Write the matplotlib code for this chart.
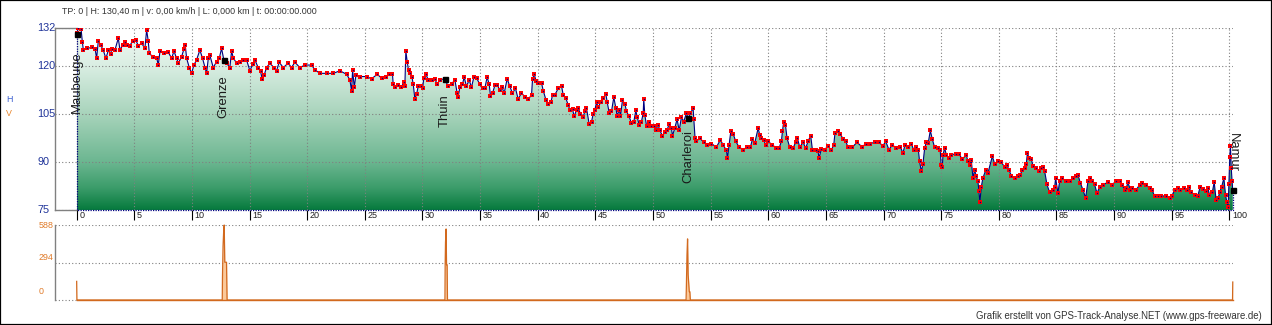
import numpy as np
import matplotlib
matplotlib.use("Agg")
import matplotlib.pyplot as plt
from matplotlib.colors import LinearSegmentedColormap
from matplotlib.patches import Polygon, Rectangle

plt.rcParams['font.family'] = ['Liberation Sans', 'DejaVu Sans']

## ELEVATION PROFILE (km, m) in five pieces

km_1 = [0.0, 0.15, 0.38, 0.49, 0.58, 0.87, 1.3, 1.6, 1.73, 1.88, 2.08, 2.3, 2.54, 2.75, 2.95,
        3.03, 3.32, 3.61, 3.76, 3.99, 4.19, 4.39, 4.62, 4.86, 5.12, 5.35, 5.64, 5.92, 6.07, 6.21,
        6.3, 6.59, 6.94, 7.08, 7.23, 7.57, 7.95, 8.24, 8.44, 8.67, 8.82, 9.1, 9.31, 9.42, 9.54,
        9.77, 9.97, 10.17, 10.4, 10.69, 10.92, 11.13, 11.27, 11.42, 11.56, 11.85, 12.14, 12.37, 12.57, 12.77,
        13.0, 13.29, 13.44, 13.58, 13.87, 14.16, 14.45, 14.74, 15.03, 15.26, 15.46, 15.75, 15.95, 16.1, 16.27,
        16.47, 16.76, 17.11, 17.34, 17.57, 17.92, 18.35, 18.64, 18.93, 19.36, 19.8]
h_1 = [130.4, 131.9, 131.8, 127.7, 125.1, 125.6, 125.9, 125.4, 122.5, 128.0, 126.7, 125.1, 122.5, 125.1, 123.8,
       125.4, 125.1, 128.8, 125.1, 126.7, 127.7, 126.7, 126.5, 128.0, 128.2, 126.5, 127.2, 125.6, 131.4, 127.9,
       124.1, 123.0, 122.7, 120.4, 124.8, 124.1, 124.4, 122.5, 124.8, 122.5, 121.0, 123.0, 125.4, 126.7, 122.5,
       119.6, 117.8, 120.4, 122.0, 125.1, 122.5, 119.6, 117.8, 122.5, 123.4, 119.6, 121.5, 122.5, 125.6, 122.0,
       121.0, 119.6, 124.8, 122.7, 121.0, 121.3, 122.0, 122.0, 118.6, 120.6, 122.0, 119.6, 118.4, 116.1, 117.3,
       119.6, 121.0, 119.6, 118.6, 121.3, 119.6, 121.0, 119.6, 121.3, 119.6, 120.4]

km_2 = [20.38, 20.67, 21.1, 21.68, 22.26, 22.84, 23.42, 23.7, 23.85, 23.94, 24.08, 24.23, 24.57, 25.15, 25.58,
        26.08, 26.45, 26.83, 27.12, 27.4, 27.46, 27.61, 27.9, 28.18, 28.39, 28.47, 28.56, 28.68, 28.79, 28.91,
        29.08, 29.2, 29.34, 29.49, 29.63, 29.83, 30.01, 30.12, 30.3, 30.5, 30.79, 31.08, 31.28, 31.51, 31.94,
        32.23, 32.52, 32.81, 33.01, 33.1, 33.24, 33.47, 33.62, 33.82, 34.05, 34.25, 34.46, 34.69, 34.98, 35.21,
        35.41, 35.61, 35.79, 35.9, 36.08, 36.28, 36.48, 36.71, 36.91, 37.09, 37.35, 37.58, 37.81, 38.07, 38.3,
        38.59, 38.88, 39.17, 39.46]
h_2 = [120.4, 118.9, 117.8, 117.8, 117.8, 118.6, 117.5, 115.8, 112.3, 118.9, 113.5, 117.3, 116.8, 116.8, 116.1,
       117.5, 116.3, 116.8, 117.5, 117.5, 114.4, 113.5, 114.2, 113.4, 115.2, 113.7, 124.8, 121.3, 118.9, 117.8,
       116.8, 114.4, 109.8, 111.3, 113.7, 113.7, 113.1, 116.3, 117.5, 115.8, 115.8, 116.0, 114.4, 115.8, 116.1,
       113.7, 114.4, 115.8, 111.6, 110.5, 113.4, 114.4, 116.6, 113.7, 115.8, 113.4, 116.6, 116.3, 114.4, 113.1,
       113.1, 116.6, 114.4, 110.8, 111.6, 114.0, 114.2, 112.6, 113.4, 111.6, 116.1, 113.7, 111.6, 113.1, 109.8,
       111.6, 110.5, 109.8, 110.9]

km_3 = [39.55, 39.7, 39.84, 40.04, 40.33, 40.48, 40.71, 40.91, 41.14, 41.29, 41.49, 41.78, 42.07, 42.21, 42.44,
        42.64, 42.79, 43.02, 43.16, 43.37, 43.51, 43.71, 43.94, 44.09, 44.23, 44.46, 44.67, 44.81, 44.96, 45.1,
        45.25, 45.45, 45.68, 45.91, 46.03, 46.2, 46.4, 46.6, 46.78, 46.89, 47.07, 47.18, 47.35, 47.56, 47.7,
        47.93, 48.13, 48.34, 48.51, 48.63, 48.8, 49.0, 49.15, 49.2, 49.29, 49.44, 49.67, 49.87, 50.07, 50.24,
        50.45, 50.59, 50.82, 51.03, 51.23, 51.4, 51.6, 51.69, 51.89, 52.09, 52.27, 52.47, 52.67, 52.9, 53.05,
        53.25, 53.48, 53.54, 53.65, 53.77, 54.06, 54.41, 54.7, 55.07, 55.5, 55.85, 56.08, 56.37, 56.46, 56.6,
        56.75, 56.95, 57.18, 57.47, 57.82, 58.16, 58.45, 58.63, 58.83, 59.12]
h_3 = [116.0, 117.6, 115.5, 114.7, 114.7, 112.4, 109.5, 108.3, 108.7, 111.1, 111.1, 113.1, 113.7, 111.1, 110.0,
       107.9, 106.4, 106.6, 104.3, 106.4, 106.9, 105.1, 104.1, 105.9, 106.9, 102.0, 102.7, 105.1, 106.4, 108.7,
       107.2, 108.7, 110.0, 111.3, 108.7, 105.5, 105.9, 110.3, 106.9, 104.5, 106.4, 104.5, 109.3, 108.3, 105.9,
       104.3, 102.2, 102.7, 106.2, 104.1, 101.7, 102.7, 105.3, 109.7, 104.8, 101.4, 102.7, 101.4, 101.4, 100.1,
       101.7, 99.9, 98.3, 99.3, 100.1, 102.0, 100.6, 98.3, 100.6, 103.5, 99.9, 104.1, 102.7, 105.3, 103.8,
       105.3, 106.9, 103.5, 97.5, 96.5, 97.5, 96.2, 95.4, 95.8, 94.7, 97.0, 95.4, 93.7, 91.3, 95.4,
       99.6, 98.9, 96.5, 94.7, 93.9, 94.7, 94.7, 97.2, 96.0, 100.6]

km_4 = [59.26, 59.4, 59.6, 59.78, 59.98, 60.36, 60.7, 60.94, 61.14, 61.23, 61.34, 61.49, 61.63, 61.86, 62.15,
        62.38, 62.53, 62.73, 63.02, 63.25, 63.45, 63.68, 63.83, 64.12, 64.32, 64.4, 64.61, 64.9, 65.18, 65.47,
        65.68, 65.79, 66.05, 66.25, 66.49, 66.72, 66.92, 67.3, 67.7, 68.16, 68.45, 68.8, 69.23, 69.6, 69.95,
        70.19, 70.47, 70.76, 71.11, 71.46, 71.69, 71.86, 72.12, 72.41, 72.61, 72.84, 73.02, 73.13, 73.28, 73.42,
        73.57, 73.71, 73.88, 74.06, 74.23, 74.43, 74.72, 74.92, 75.0, 75.1, 75.16, 75.3, 75.45, 75.68, 75.88,
        76.25, 76.54, 76.83, 77.18, 77.32, 77.47, 77.61, 77.76, 77.9, 78.05, 78.19, 78.28, 78.36, 78.48, 78.62,
        78.86, 79.06]
h_4 = [98.6, 97.5, 97.0, 95.4, 96.5, 95.4, 94.4, 94.4, 96.5, 99.6, 102.7, 101.7, 97.5, 94.7, 94.4,
       96.2, 97.5, 94.7, 96.2, 94.4, 96.5, 98.3, 93.9, 93.9, 93.4, 91.3, 94.1, 93.9, 95.1, 93.7,
       95.4, 99.1, 99.6, 98.9, 97.2, 96.5, 94.7, 94.7, 96.2, 94.7, 95.8, 95.8, 96.2, 96.2, 95.1,
       96.5, 93.9, 95.4, 94.4, 94.7, 92.9, 95.4, 94.7, 95.8, 93.9, 94.7, 93.9, 90.2, 87.1, 89.5,
       94.4, 96.2, 96.0, 99.9, 97.2, 94.7, 94.4, 93.7, 89.2, 88.5, 92.3, 94.4, 92.3, 91.3, 92.3,
       92.6, 92.6, 90.9, 92.3, 90.2, 89.2, 90.8, 85.0, 87.6, 85.5, 84.0, 80.9, 77.4, 82.2, 85.0,
       87.4, 86.6]

km_5 = [79.44, 79.64, 79.93, 80.22, 80.51, 80.71, 80.89, 81.09, 81.38, 81.67, 81.87, 82.04, 82.24, 82.39, 82.48,
        82.62, 82.82, 82.97, 83.2, 83.49, 83.69, 83.83, 83.98, 84.18, 84.41, 84.7, 84.85, 84.93, 85.13, 85.28,
        85.51, 85.8, 86.15, 86.44, 86.67, 86.87, 87.07, 87.3, 87.53, 87.74, 87.94, 88.11, 88.31, 88.52, 88.75,
        89.04, 89.47, 89.85, 90.13, 90.48, 90.71, 90.91, 91.06, 91.2, 91.41, 91.58, 91.93, 92.22, 92.45, 92.79,
        93.08, 93.31, 93.52, 93.8, 94.09, 94.47, 94.82, 95.05, 95.25, 95.54, 95.74, 96.03, 96.32, 96.49, 96.7,
        96.98, 97.27, 97.47, 97.71, 98.0, 98.14, 98.28, 98.52, 98.69, 98.86, 99.04, 99.15, 99.33, 99.53, 99.67,
        99.79, 99.9, 99.96, 100.04, 100.1, 100.17, 100.24, 100.3]
h_5 = [91.8, 89.5, 90.2, 89.9, 88.5, 89.2, 87.4, 85.8, 85.0, 85.8, 86.1, 87.6, 88.2, 89.5, 92.8,
       91.3, 91.0, 88.7, 88.2, 87.1, 88.2, 88.5, 87.1, 83.0, 80.5, 81.2, 82.2, 85.0, 80.3, 84.0,
       85.0, 84.0, 84.0, 85.0, 85.8, 86.1, 83.5, 81.4, 78.8, 84.0, 85.0, 84.0, 83.0, 80.3, 82.2,
       82.9, 83.7, 82.9, 84.0, 84.0, 82.9, 81.2, 81.9, 83.7, 81.4, 81.9, 81.4, 82.9, 83.5, 82.9,
       81.9, 81.2, 79.3, 79.3, 79.3, 79.5, 78.8, 79.5, 81.2, 81.9, 81.4, 81.9, 81.4, 82.2, 80.5,
       79.8, 79.5, 82.2, 81.6, 80.9, 81.9, 79.8, 80.5, 83.7, 78.0, 78.8, 80.5, 82.2, 85.0, 79.8,
       77.4, 76.0, 83.0, 91.6, 95.0, 88.0, 84.0, 81.2]

## PLACES
place_names = ["Maubeuge", "Grenze", "Thuin", "Charleroi", "Namur"]
place_km = [0.0, 12.77, 31.94, 53.05, 100.3]
place_h = [130.2, 122.0, 116.1, 103.8, 81.2]

## SPEED (km/h) - mostly zero, a few spikes
speed_km = [0.0, 0.0, 0.02, 12.63, 12.65, 12.70, 12.75, 12.80, 12.85, 13.0, 13.05,
            31.95, 31.97, 32.0, 32.05, 32.09, 32.14, 32.17,
            52.87, 52.9, 52.95, 53.0, 53.05, 53.15, 53.2, 53.24, 100.28, 100.3]
speed_val = [146, 146, 0, 0, 183, 423, 531, 588, 296, 296, 0,
             0, 276, 453, 557, 276, 276, 0,
             0, 120, 354, 479, 198, 65, 65, 0, 0, 141]

km = np.array(km_1 + km_2 + km_3 + km_4 + km_5)
elev = np.array(h_1 + h_2 + h_3 + h_4 + h_5)

X0, X1 = -1.88, 100.32
W, H = 1272, 325

fig = plt.figure(figsize=(W / 100, H / 100), dpi=100)

## ELEVATION PANEL
ax = fig.add_axes([55 / W, 115 / H, 1178 / W, 182 / H])

green = LinearSegmentedColormap.from_list("elev", [
    (0.0, "#067a3d"), (0.12, "#3b9c6a"), (0.26, "#6bb690"), (0.53, "#a9d4bc"),
    (0.79, "#daeee3"), (1.0, "#f3f9f5")])
grad = np.linspace(0, 1, 256).reshape(-1, 1)
im = ax.imshow(grad, extent=[0, km[-1], 75, 132], origin="lower", aspect="auto",
               cmap=green, interpolation="bilinear", zorder=0.5)
outline = Polygon(np.column_stack([np.r_[km[0], km, km[-1]], np.r_[75, elev, 75]]),
                  closed=True, facecolor="none", edgecolor="none")
ax.add_patch(outline)
im.set_clip_path(outline)

ax.plot([0, 0, km[-1], km[-1]], [elev[0], 75, 75, elev[-1]], color="#000080",
        lw=0.9, ls=(0, (1, 1)), zorder=3, clip_on=False)
ax.plot(km, elev, color="#000080", lw=0.8, zorder=3)
ax.plot(km, elev, "s", ms=3.0, mfc="#ff0000", mec="#ff0000", mew=0, zorder=4)
ax.plot(km, elev, "s", ms=0.9, mfc="#000080", mec="#000080", mew=0, zorder=5)
ax.plot(place_km, place_h, "s", ms=3.6, color="black", zorder=6, clip_on=False)

ax.set_xlim(X0, X1)
ax.set_ylim(75, 132)
ax.set_xticks(np.arange(0, 101, 5))
ax.set_yticks([75, 90, 105, 120, 132])
ax.grid(True, color="#808080", linestyle=(0, (1, 2)), linewidth=0.8)
ax.set_axisbelow(False)
ax.tick_params(axis="x", direction="out", length=7, width=0.8, colors="black", labelbottom=False)
ax.tick_params(axis="y", length=0, labelleft=False)
for s in ["top", "right", "bottom"]:
    ax.spines[s].set_visible(False)
ax.spines["left"].set_color("#808080")
ax.spines["left"].set_linewidth(1.0)
ax.plot([X0, 0], [75, 75], color="#808080", lw=1.0, clip_on=False)
ax.plot([X0, 0], [132, 132], color="#808080", lw=1.0, clip_on=False)

for k in range(0, 101, 5):
    ax.text(k + 0.22, -0.03, str(k), transform=ax.get_xaxis_transform(),
            ha="left", va="center", fontsize=6.5, color="#222222")
for v in [75, 90, 105, 120, 132]:
    ax.text(37 / W, 115 / H + (v - 75) / 57 * 182 / H, str(v), transform=fig.transFigure,
            ha="left", va="center", fontsize=7.8, color="#1f3399")

rot = [90, 90, 90, 90, 270]
lab_h = [115.0, 110.6, 106.1, 91.9, 93.0]
for name, x, y, r in zip(place_names, place_km, lab_h, rot):
    ax.text(x, y, name, rotation=r, ha="center", va="center", fontsize=9.4,
            color="#1a1a1a", zorder=7, clip_on=False)

## SPEED PANEL
ax2 = fig.add_axes([55 / W, 25 / H, 1178 / W, 75 / H])
ax2.fill_between(speed_km, speed_val, 0, color="#fbc99a", lw=0, zorder=2)
ax2.plot(speed_km, speed_val, color="#d2691e", lw=0.9, zorder=3, clip_on=False)
ax2.plot([0, 100.3], [0, 0], color="#d2691e", lw=1.0, zorder=3, clip_on=False)
ax2.set_xlim(X0, X1)
ax2.set_ylim(0, 588)
ax2.set_yticks([294, 588])
ax2.set_xticks([])
ax2.yaxis.grid(True, color="#808080", linestyle=(0, (1, 2)), linewidth=0.8)
ax2.tick_params(axis="y", length=0, labelleft=False)
for s in ["top", "right", "bottom"]:
    ax2.spines[s].set_visible(False)
ax2.spines["left"].set_color("#808080")
ax2.spines["left"].set_linewidth(1.0)
ax2.plot([X0, 0], [0, 0], color="#808080", lw=0.8, ls=(0, (1, 2)), clip_on=False)
for v, py in zip(["588", "294", "0"], [225, 258, 291]):
    fig.text(39 / W, 1 - py / H, v, ha="left", va="center", fontsize=6.4, color="#e07b2a")

## LABELS
fig.text(9 / W, 1 - 100 / H, "H", ha="center", va="center", fontsize=6.4, color="#3a5fd0")
fig.text(9 / W, 1 - 114 / H, "V", ha="center", va="center", fontsize=6.4, color="#e8862d")
fig.text(62 / W, 1 - 12 / H, "TP: 0 | H: 130,40 m | v: 0,00 km/h | L: 0,000 km | t: 00:00:00.000",
         ha="left", va="center", fontsize=6.4, color="#333333")
fig.text(1262 / W, 1 - 316 / H, "Grafik erstellt von GPS-Track-Analyse.NET (www.gps-freeware.de)",
         ha="right", va="center", fontsize=6.9, color="#333333")
fig.patches.append(Rectangle((0, 0), 1, 1, transform=fig.transFigure, fill=False,
                             edgecolor="black", lw=1.6))

fig.savefig("out.png", dpi=100)
